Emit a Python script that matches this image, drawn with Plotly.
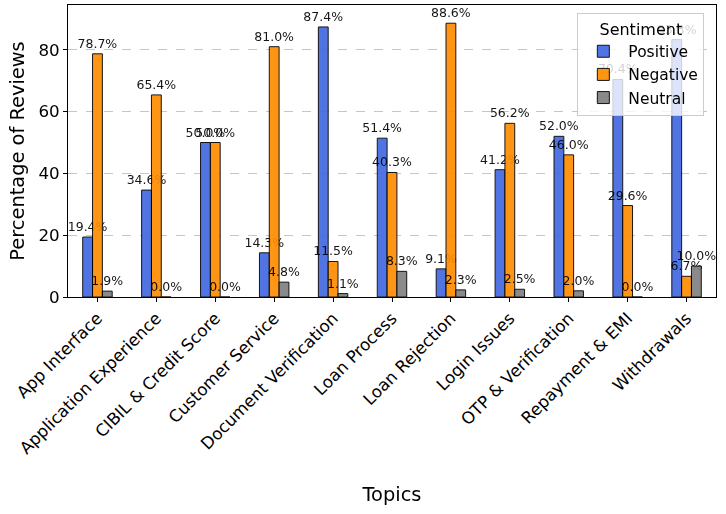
import plotly.graph_objects as go

topics = ["App Interface", "Application Experience", "CIBIL & Credit Score", "Customer Service",
          "Document Verification", "Loan Process", "Loan Rejection", "Login Issues",
          "OTP & Verification", "Repayment & EMI", "Withdrawals"]
positive = [19.4, 34.6, 50.0, 14.3, 87.4, 51.4, 9.1, 41.2, 52.0, 70.4, 83.3]
negative = [78.7, 65.4, 50.0, 81.0, 11.5, 40.3, 88.6, 56.2, 46.0, 29.6, 6.7]
neutral = [1.9, 0.0, 0.0, 4.8, 1.1, 8.3, 2.3, 2.5, 2.0, 0.0, 10.0]

series = [("Positive", positive, "#4169E1"),
          ("Negative", negative, "#FF8C00"),
          ("Neutral", neutral, "#808080")]

fig = go.Figure()
for name, vals, col in series:
    fig.add_trace(go.Bar(
        x=topics, y=vals, name=name,
        marker=dict(color=col, line=dict(color="black", width=1)),
        opacity=0.92,
        text=[f"{v:.1f}%" for v in vals],
        textposition="outside",
        textfont=dict(size=12.5, color="black"),
        constraintext="none",
        cliponaxis=False,
    ))

font = "DejaVu Sans"
fig.update_layout(
    width=726, height=514,
    margin=dict(l=68, r=10, t=5, b=217),
    paper_bgcolor="white", plot_bgcolor="white",
    barmode="group", bargap=0.5, bargroupgap=0,
    font=dict(family=font, color="black"),
    legend=dict(
        title=dict(text="Sentiment", font=dict(size=16), side="top center"),
        font=dict(size=15.5),
        x=0.982, y=0.973, xanchor="right", yanchor="top",
        bgcolor="rgba(255,255,255,0.8)",
        bordercolor="#cccccc", borderwidth=1,
        itemwidth=40,
    ),
    xaxis=dict(
        title=dict(text="Topics", font=dict(size=19.4), standoff=30),
        tickangle=-45, tickfont=dict(size=16.7),
        showline=True, linecolor="black", linewidth=1, mirror=True,
        ticks="outside", ticklen=4, tickcolor="black",
        showgrid=False,
    ),
    yaxis=dict(
        title=dict(text="Percentage of Reviews", font=dict(size=19.4), standoff=8),
        range=[0, 94.5], tickvals=[0, 20, 40, 60, 80],
        tickfont=dict(size=16.7),
        showline=True, linecolor="black", linewidth=1, mirror=True,
        ticks="outside", ticklen=4, tickcolor="black",
        showgrid=True, gridcolor="rgba(160,160,160,0.6)", griddash="dash", gridwidth=1,
        zeroline=False,
    ),
)

fig.write_html("out.html")
